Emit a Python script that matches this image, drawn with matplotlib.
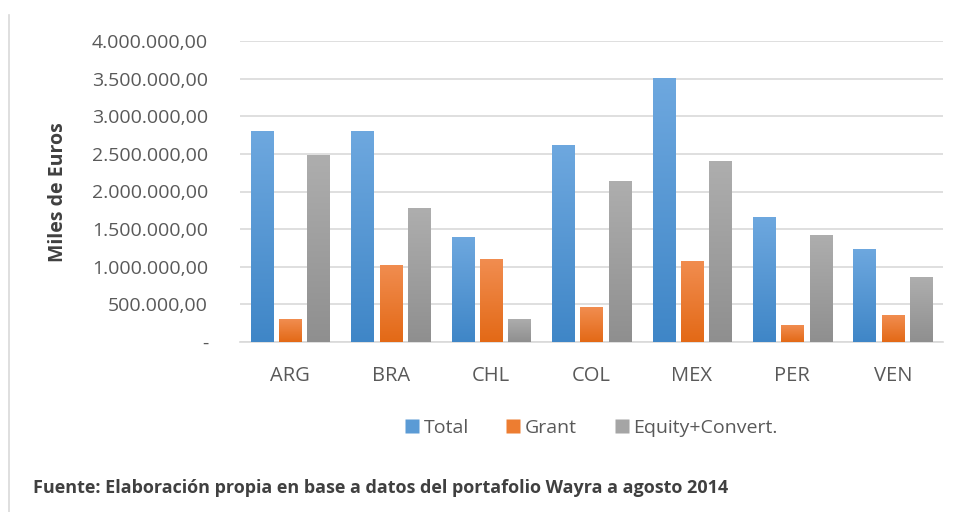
import matplotlib
matplotlib.use("Agg")
import matplotlib.pyplot as plt
import numpy as np
from matplotlib.colors import LinearSegmentedColormap
from matplotlib.lines import Line2D
from matplotlib.ticker import FuncFormatter, MultipleLocator

categories = ["ARG", "BRA", "CHL", "COL", "MEX", "PER", "VEN"]
total = [2810000, 2810000, 1400000, 2620000, 3510000, 1665000, 1237000]
grant = [305000, 1025000, 1100000, 460000, 1077000, 222000, 355000]
equity = [2490000, 1775000, 306000, 2145000, 2410000, 1422000, 862000]
series_names = ["Total", "Grant", "Equity+Convert."]
ylabel = "Miles de Euros"
footer = "Fuente: Elaboración propia en base a datos del portafolio Wayra a agosto 2014"

colors = ["#5B9BD5", "#ED7D31", "#A5A5A5"]
grad_top = ["#6EA8DF", "#F18D50", "#AEAEAE"]
grad_bot = ["#3F86C7", "#E36916", "#8F8F8F"]

W, H = 957, 512
fig = plt.figure(figsize=(W / 100, H / 100), dpi=100)
ax = fig.add_axes([240 / W, 1 - 342 / H, (943 - 240) / W, (342 - 41) / H])

x = np.arange(len(categories))
bw = 0.22
step = 0.282
data = [total, grant, equity]
ax.set_xlim(-0.5, len(categories) - 0.5)
ax.set_ylim(0, 4000000)
for i, vals in enumerate(data):
    bars = ax.bar(x + (i - 1) * step, vals, width=bw, color=colors[i],
                  edgecolor="none", zorder=2)
    cmap = LinearSegmentedColormap.from_list("g%d" % i, [grad_bot[i], grad_top[i]])
    for b in bars:
        x0, y0 = b.get_x(), b.get_y()
        w, h = b.get_width(), b.get_height()
        grad = np.linspace(0, 1, 256).reshape(-1, 1)
        im = ax.imshow(grad, extent=[x0, x0 + w, y0, y0 + h], origin="lower",
                       aspect="auto", cmap=cmap, zorder=3, interpolation="bicubic")
        im.set_clip_path(b)
ax.set_xlim(-0.5, len(categories) - 0.5)
ax.set_ylim(0, 4000000)

def fmt(v, pos):
    if v == 0:
        return "-"
    s = "{:,.2f}".format(v)
    return s.replace(",", "X").replace(".", ",").replace("X", ".")

ax.yaxis.set_major_locator(MultipleLocator(500000))
ax.yaxis.set_major_formatter(FuncFormatter(fmt))
ax.grid(axis="y", color="#D9D9D9", linewidth=1.2, zorder=0)
ax.set_axisbelow(True)
for s in ["top", "right", "left"]:
    ax.spines[s].set_visible(False)
ax.spines["bottom"].set_color("#D9D9D9")
ax.spines["bottom"].set_linewidth(1.2)
ax.set_xticks(x)
ax.set_xticklabels(categories)
ax.tick_params(axis="both", length=0, colors="#595959")
ax.tick_params(axis="x", pad=17, labelsize=14.5)
ax.tick_params(axis="y", pad=23, labelsize=14)
for lab in ax.get_xticklabels() + ax.get_yticklabels():
    lab.set_fontfamily("Open Sans")

fig.text(58 / W, 1 - 192 / H, ylabel, rotation=90, ha="center", va="center",
         fontsize=14, fontweight="bold", color="#404040", family="Open Sans")

handles = [Line2D([], [], marker="s", linestyle="none", markersize=10,
                  markerfacecolor=c, markeredgecolor="none") for c in colors]
leg = fig.legend(handles, series_names, loc="center", ncol=3,
                 bbox_to_anchor=(591 / W, 1 - 428 / H), frameon=False,
                 handletextpad=0.2, columnspacing=1.9, handlelength=0.8,
                 prop={"family": "Open Sans", "size": 14})
for t in leg.get_texts():
    t.set_color("#595959")

fig.text(33 / W, 1 - 488 / H, footer, ha="left", va="center", fontsize=13,
         fontweight="bold", color="#404040",
         family=["Liberation Sans Narrow", "Open Sans", "DejaVu Sans"])

fig.add_artist(Line2D([8.5 / W, 8.5 / W], [0, 1 - 15 / H], color="#D9D9D9",
                      linewidth=1.2, transform=fig.transFigure))

fig.savefig("out.png", dpi=100)
